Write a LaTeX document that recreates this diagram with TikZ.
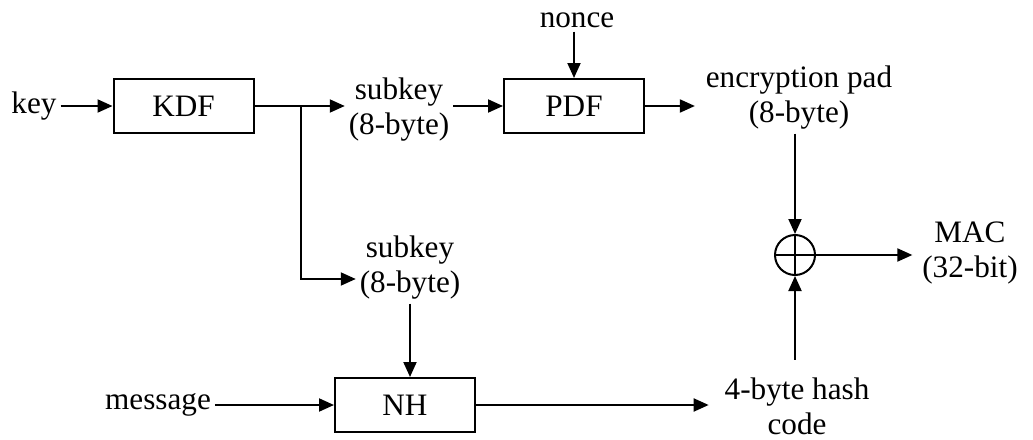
\documentclass[tikz,border=0pt]{standalone}
\usepackage{fontspec}
\setmainfont{Liberation Serif}
\usetikzlibrary{arrows.meta}

\begin{document}
\begin{tikzpicture}[x=0.5pt, y=-0.5pt, line width=1pt,
    font=\fontsize{15.6}{17.5}\selectfont,
    >={Triangle[length=7.5pt,width=6.5pt]},
    blk/.style={draw, minimum width=70pt, minimum height=27pt},
    txt/.style={align=center, inner sep=1.5pt}]
      \useasboundingbox (0,0) rectangle (1033,439);
      \node (Key) [txt] at (34,106) {key};
      \node (KDF) [blk] at (183.5,106) {KDF};
      \node (SK1) [txt] at (399,110) {subkey\\(8-byte)};
      \node (PDF) [blk] at (574,106) {PDF};
      \node (N) [txt] at (577,20) {nonce};
      \node (EP) [txt] at (799,98) {encryption pad\\(8-byte)};
      \node (X) [draw, circle, minimum size=20pt, inner sep=0pt] at (795,255) {};
      \node (MAC) [txt] at (970,253) {MAC\\(32-bit)};
      \node (SK2) [txt] at (410,268) {subkey\\(8-byte)};
      \node (M) [txt] at (158,405) {message};
      \node (NH) [blk] at (405,405) {NH};
      \node (H) [txt] at (797,406) {4-byte hash\\code};
      \coordinate (S) at (301,106);

      \draw[->] (Key) to (KDF);
      \draw[->] (KDF) to (KDF -| SK1.west);
      \draw[->] (S) |- ([yshift=-5.5pt]SK2.west);
      \draw[->] (SK1.east |- PDF) to (PDF);
      \draw[->] (N.south -| PDF) to (PDF);
      \draw[->, shorten >=3.5pt] (PDF) to (PDF -| EP.west);
      \draw[->] (EP.south -| X) to (X);
      \draw (X.north) to (X.south);
      \draw (X.west) to (X.east);
      \draw[->, shorten >=3pt] (X) to (X -| MAC.west);
      \draw[->] (SK2.south) to (SK2.south |- NH.north);
      \draw[->] (M) to (NH);
      \draw[->, shorten >=6pt] (NH) to (NH -| H.west);
      \draw[->, shorten <=7pt] (H.north -| X) to (X);
      \end{tikzpicture}
\end{document}
